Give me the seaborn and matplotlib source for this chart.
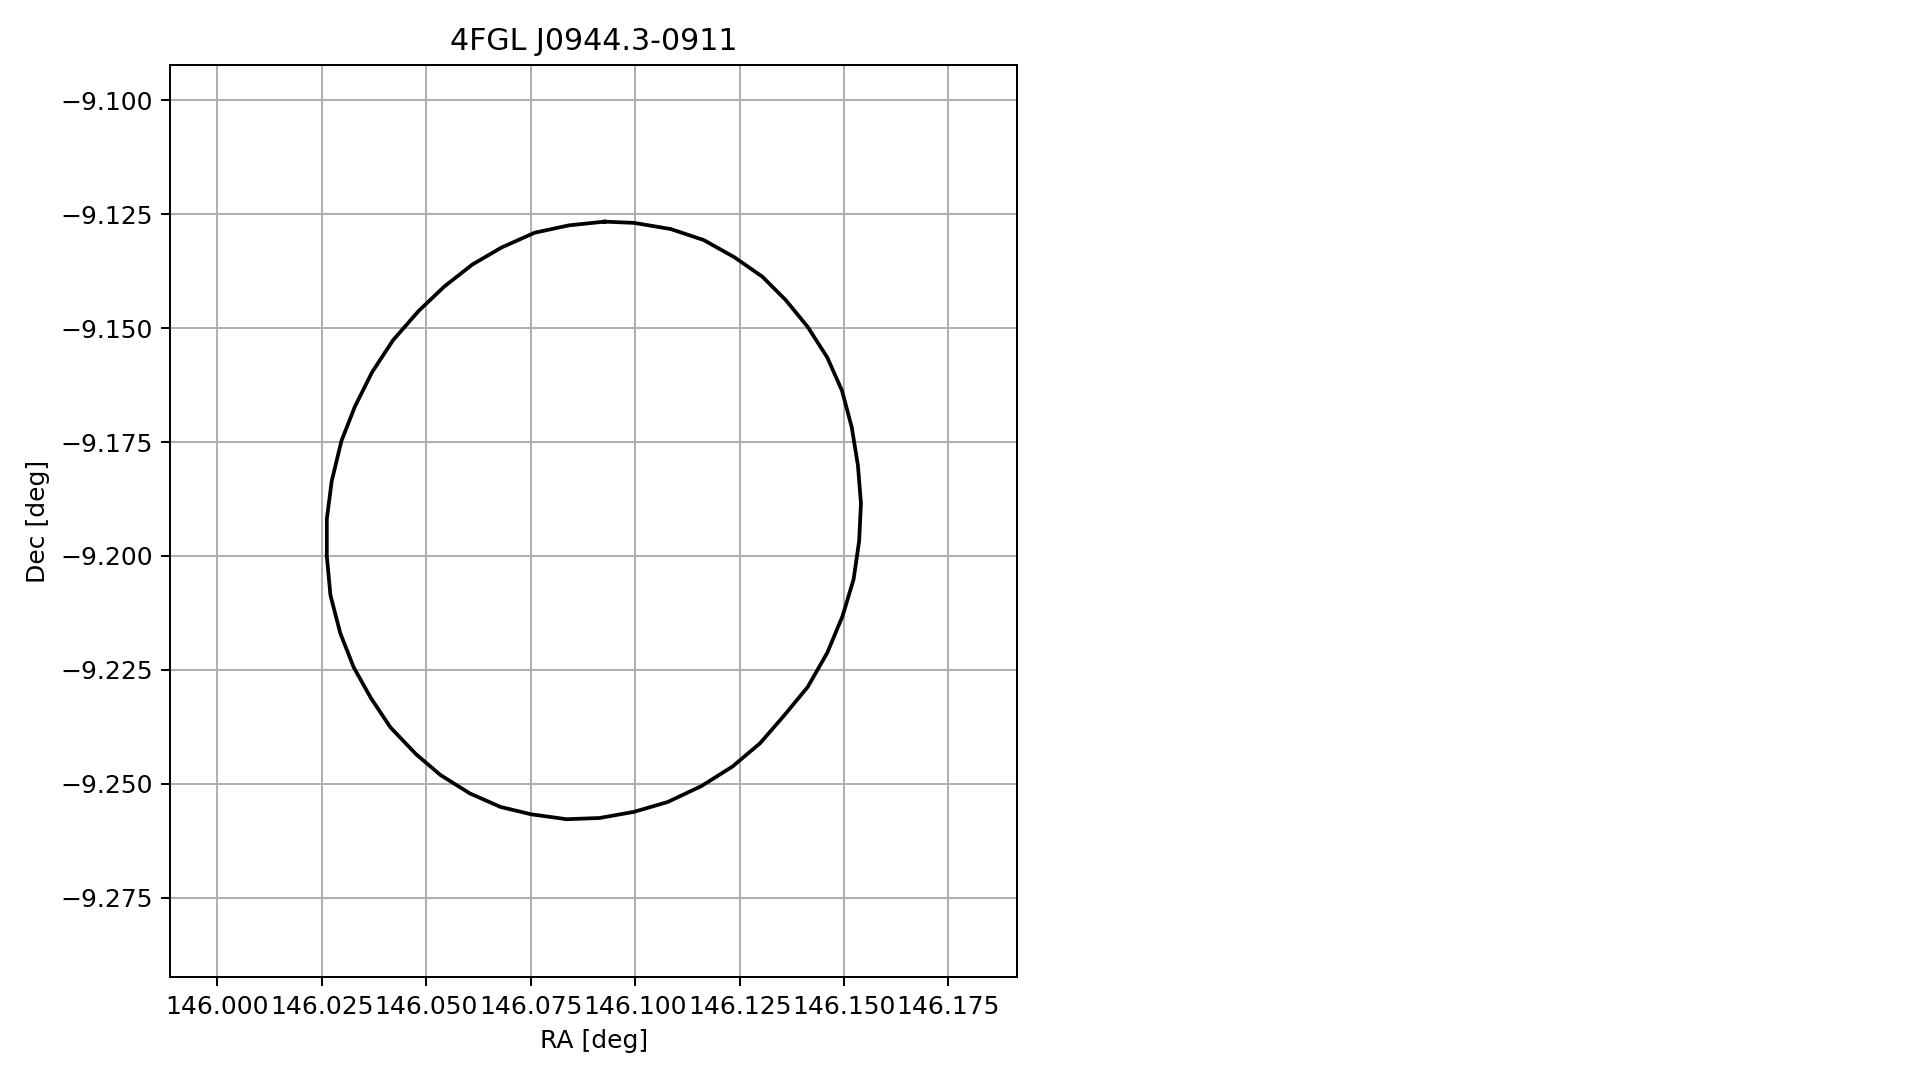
import numpy as np
import pandas as pd
import matplotlib
matplotlib.use("Agg")
import matplotlib.pyplot as plt
import seaborn as sns

title = "4FGL J0944.3-0911"
x_label = "RA [deg]"
y_label = "Dec [deg]"

ra = [146.09271, 146.09974, 146.10852, 146.11643, 146.12375, 146.13049, 146.13606,
      146.14133, 146.14602, 146.14953, 146.15187, 146.15334, 146.15407, 146.15363,
      146.15231, 146.14968, 146.14602, 146.14133, 146.13576, 146.12991, 146.12332,
      146.11585, 146.10779, 146.09974, 146.09153, 146.08363, 146.07513, 146.06781,
      146.06049, 146.05346, 146.04760, 146.04145, 146.03676, 146.03266, 146.02944,
      146.02709, 146.02622, 146.02622, 146.02739, 146.02973, 146.03295, 146.03705,
      146.04203, 146.04818, 146.05434, 146.06107, 146.06810, 146.07601, 146.08421]
dec = [-9.12661, -9.12688, -9.12823, -9.13065, -9.13441, -9.13871, -9.14382,
       -9.14973, -9.15645, -9.16371, -9.17177, -9.18011, -9.18844, -9.19677,
       -9.20511, -9.21317, -9.22124, -9.22876, -9.23495, -9.24113, -9.24624,
       -9.25054, -9.25403, -9.25618, -9.25753, -9.25780, -9.25672, -9.25511,
       -9.25215, -9.24812, -9.24355, -9.23763, -9.23118, -9.22446, -9.21694,
       -9.20860, -9.20000, -9.19194, -9.18360, -9.17473, -9.16720, -9.15968,
       -9.15269, -9.14624, -9.14086, -9.13602, -9.13226, -9.12903, -9.12742]

x_limits = [145.98872, 146.19142]
y_limits = [-9.29247, -9.09220]
x_ticks = [146.000, 146.025, 146.050, 146.075, 146.100, 146.125, 146.150, 146.175]
y_ticks = [-9.100, -9.125, -9.150, -9.175, -9.200, -9.225, -9.250, -9.275]

df = pd.DataFrame({"ra": ra + ra[:1], "dec": dec + dec[:1]})
df["order"] = np.arange(len(df))

dpi = 180
fig = plt.figure(figsize=(1919 / dpi, 1080 / dpi), dpi=dpi)
ax = fig.add_axes([0.08865, 0.09524, 0.44132, 0.84467])

sns.lineplot(data=df, x="ra", y="dec", sort=False, estimator=None,
             color="black", linewidth=1.5, ax=ax)

ax.set_xlim(x_limits)
ax.set_ylim(y_limits)
ax.set_xticks(x_ticks)
ax.set_xticklabels([f"{v:.3f}" for v in x_ticks])
ax.set_yticks(y_ticks)
ax.set_yticklabels([f"{v:.3f}".replace("-", "\u2212") for v in y_ticks])
ax.grid(True)
ax.set_title(title, fontsize=12)
ax.set_xlabel(x_label)
ax.set_ylabel(y_label)

fig.savefig("out.png", dpi=dpi)
